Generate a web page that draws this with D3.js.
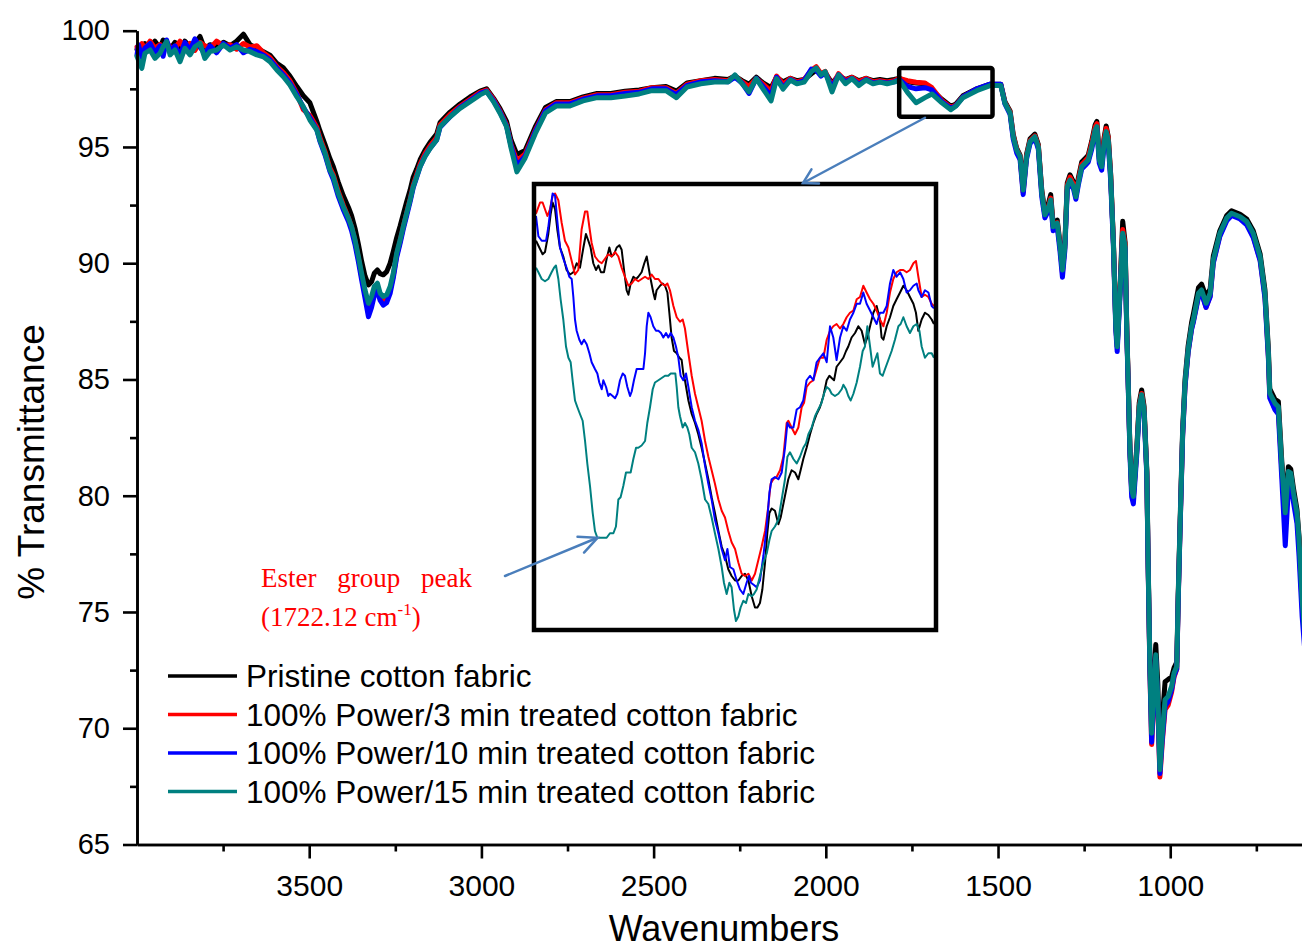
<!DOCTYPE html>
<html>
<head>
<meta charset="utf-8">
<script src="https://cdn.jsdelivr.net/npm/d3@7"></script>
<style>
  html, body { margin: 0; padding: 0; background: #ffffff; }
  svg { display: block; }
</style>
</head>
<body>
<svg id="chart" width="1302" height="950"></svg>
<script>
// ---------------- FTIR spectra (wavenumber in cm-1, % transmittance) ----------------
const wavenumbers = [
  4000, 3996, 3986, 3977, 3962, 3948, 3933, 3924, 3914, 3904,
  3890, 3875, 3861, 3846, 3832, 3817, 3803, 3788, 3769, 3749,
  3730, 3711, 3691, 3672, 3652, 3633, 3614, 3594, 3575, 3556,
  3536, 3517, 3498, 3478, 3469, 3454, 3440, 3430, 3416, 3401,
  3386, 3377, 3367, 3357, 3348, 3338, 3328, 3319, 3311, 3302,
  3294, 3285, 3275, 3265, 3256, 3246, 3236, 3227, 3217, 3207,
  3198, 3188, 3178, 3164, 3149, 3130, 3120, 3091, 3062, 3033,
  3004, 2985, 2965, 2946, 2927, 2914, 2897, 2873, 2844, 2814,
  2783, 2743, 2705, 2664, 2624, 2583, 2542, 2505, 2464, 2434,
  2403, 2363, 2323, 2284, 2264, 2243, 2223, 2202, 2182, 2159,
  2143, 2124, 2103, 2084, 2063, 2042, 2028, 2014, 2002, 1982,
  1963, 1943, 1924, 1904, 1883, 1863, 1843, 1822, 1802, 1787,
  1763, 1738, 1712, 1692, 1663, 1637, 1622, 1602, 1562, 1523,
  1492, 1480, 1465, 1456, 1446, 1436, 1427, 1417, 1407, 1393,
  1383, 1373, 1364, 1354, 1347, 1340, 1328, 1320, 1313, 1306,
  1299, 1291, 1281, 1274, 1267, 1257, 1247, 1238, 1228, 1218,
  1213, 1206, 1199, 1192, 1186, 1180, 1173, 1165, 1158, 1154,
  1146, 1138, 1131, 1126, 1122, 1117, 1112, 1107, 1097, 1090,
  1083, 1076, 1068, 1064, 1059, 1054, 1049, 1042, 1036, 1030,
  1023, 1015, 1006, 996, 989, 981, 977, 972, 964, 957,
  948, 938, 933, 918, 909, 896, 884, 875, 856, 836,
  822, 797, 778, 759, 739, 725, 715, 711, 696, 686,
  676, 666, 657, 650, 642, 632, 626, 617, 608
];

const pristine = [
  99.20, 99.35, 99.10, 99.45, 99.30, 99.55, 99.25, 99.60, 99.40, 99.20,
  99.50, 99.15, 99.55, 99.30, 99.45, 99.75, 99.20, 99.40, 99.30, 99.50,
  99.35, 99.55, 99.85, 99.40, 99.25, 99.10, 98.95, 98.60, 98.40, 98.05,
  97.60, 97.20, 96.90, 96.10, 95.70, 95.10, 94.50, 94.15, 93.50, 92.90,
  92.40, 92.05, 91.50, 90.80, 90.10, 89.45, 89.07, 89.20, 89.57, 89.71,
  89.55, 89.50, 89.64, 90.00, 90.50, 91.10, 91.60, 92.10, 92.65, 93.15,
  93.70, 94.05, 94.45, 94.85, 95.20, 95.55, 96.05, 96.50, 96.85, 97.15,
  97.40, 97.50, 97.10, 96.65, 96.10, 95.30, 94.68, 94.85, 95.85, 96.70,
  96.95, 96.95, 97.15, 97.30, 97.30, 97.40, 97.45, 97.55, 97.60, 97.40,
  97.75, 97.85, 97.95, 97.90, 98.05, 97.85, 97.70, 98.00, 97.75, 97.55,
  98.00, 97.80, 97.95, 97.85, 97.90, 98.15, 98.30, 98.15, 98.20, 97.75,
  98.05, 97.90, 98.00, 97.85, 97.95, 97.85, 97.90, 97.85, 97.90, 97.95,
  97.80, 97.75, 97.72, 97.45, 97.05, 96.75, 96.85, 97.20, 97.50, 97.70,
  97.70, 96.95, 96.55, 95.55, 94.95, 94.65, 93.30, 94.70, 95.35, 95.55,
  95.10, 93.15, 92.20, 92.55, 92.95, 91.70, 91.85, 90.85, 89.90, 90.85,
  93.45, 93.80, 93.50, 93.05, 93.65, 94.35, 94.50, 94.65, 95.25, 95.95,
  96.10, 94.60, 94.35, 95.40, 95.90, 95.45, 93.85, 90.95, 87.40, 86.55,
  88.90, 91.80, 90.90, 87.10, 84.95, 82.05, 80.35, 80.10, 82.10, 84.00,
  84.55, 83.85, 81.10, 77.05, 72.80, 70.40, 71.80, 73.60, 71.90, 68.50,
  70.40, 72.00, 72.10, 72.20, 72.60, 72.85, 75.65, 78.55, 82.85, 85.00,
  86.45, 87.45, 87.80, 88.95, 89.10, 88.55, 88.90, 90.30, 91.40, 92.05,
  92.25, 92.10, 91.90, 91.40, 90.40, 88.85, 86.30, 84.60, 84.15, 84.05,
  81.45, 79.55, 81.25, 81.15, 80.30, 79.40, 78.25, 75.65, 73.95
];

const power3min = [
  99.30, 99.15, 99.45, 99.20, 99.55, 99.25, 99.40, 99.10, 99.50, 99.30,
  99.25, 99.55, 99.20, 99.45, 99.15, 99.50, 99.35, 99.25, 99.55, 99.35,
  99.40, 99.20, 99.45, 99.30, 99.35, 99.05, 98.85, 98.45, 98.20, 97.85,
  97.30, 96.60, 96.35, 95.85, 95.40, 94.80, 94.10, 93.80, 93.10, 92.50,
  91.95, 91.55, 90.95, 90.20, 89.45, 88.70, 88.05, 88.35, 88.75, 88.90,
  88.50, 88.40, 88.50, 88.85, 89.45, 90.35, 90.95, 91.55, 92.15, 92.75,
  93.35, 93.80, 94.25, 94.70, 95.05, 95.40, 95.95, 96.40, 96.75, 97.05,
  97.35, 97.45, 97.05, 96.55, 95.95, 95.10, 94.40, 94.70, 95.70, 96.60,
  96.90, 96.90, 97.10, 97.25, 97.25, 97.35, 97.40, 97.55, 97.55, 97.30,
  97.70, 97.85, 97.90, 97.85, 98.05, 97.80, 97.60, 97.95, 97.70, 97.40,
  98.05, 97.70, 97.95, 97.80, 97.90, 98.30, 98.45, 98.15, 98.25, 97.60,
  98.15, 97.85, 98.00, 97.80, 97.95, 97.80, 97.85, 97.80, 97.85, 97.95,
  97.85, 97.78, 97.75, 97.55, 97.00, 96.70, 96.80, 97.15, 97.48, 97.68,
  97.68, 96.90, 96.50, 95.50, 94.90, 94.60, 93.05, 94.62, 95.28, 95.48,
  95.05, 93.05, 92.10, 92.40, 92.80, 91.60, 91.75, 90.70, 89.60, 90.70,
  93.35, 93.70, 93.40, 92.95, 93.55, 94.25, 94.40, 94.55, 95.15, 95.85,
  96.00, 94.50, 94.25, 95.30, 95.80, 95.40, 93.80, 90.90, 87.30, 86.40,
  88.75, 91.45, 90.80, 87.00, 84.85, 81.95, 80.20, 79.90, 81.95, 83.85,
  84.40, 83.70, 80.95, 76.85, 72.40, 69.30, 70.80, 72.90, 70.90, 67.90,
  69.40, 70.80, 71.00, 71.55, 72.20, 72.55, 75.45, 78.30, 82.60, 84.75,
  86.20, 87.20, 87.50, 88.60, 88.75, 88.10, 88.60, 90.05, 91.20, 91.88,
  92.10, 91.95, 91.70, 91.15, 90.15, 88.60, 86.00, 84.30, 83.85, 83.70,
  81.10, 78.95, 80.90, 80.85, 80.00, 79.10, 77.95, 75.30, 73.55
];

const power10min = [
  98.95, 99.40, 98.85, 99.25, 99.45, 99.05, 99.35, 98.90, 99.60, 99.15,
  99.35, 98.95, 99.50, 99.15, 99.65, 99.30, 99.00, 99.35, 99.05, 99.45,
  99.25, 99.40, 99.05, 99.20, 99.10, 98.95, 98.75, 98.40, 98.10, 97.75,
  97.25, 96.70, 96.25, 95.75, 95.25, 94.65, 93.95, 93.60, 92.90, 92.30,
  91.80, 91.40, 90.80, 90.05, 89.30, 88.50, 87.70, 88.10, 88.60, 88.80,
  88.40, 88.20, 88.30, 88.70, 89.35, 90.25, 90.85, 91.45, 92.05, 92.65,
  93.25, 93.70, 94.15, 94.60, 94.95, 95.30, 95.85, 96.30, 96.70, 97.00,
  97.30, 97.40, 97.00, 96.50, 95.90, 95.05, 94.20, 94.60, 95.65, 96.55,
  96.85, 96.85, 97.05, 97.20, 97.20, 97.30, 97.35, 97.50, 97.50, 97.25,
  97.65, 97.80, 97.85, 97.80, 98.00, 97.75, 97.30, 97.95, 97.60, 97.20,
  98.00, 97.55, 97.90, 97.75, 97.85, 98.35, 98.30, 98.05, 98.20, 97.55,
  98.10, 97.80, 97.95, 97.70, 97.90, 97.75, 97.80, 97.75, 97.80, 97.90,
  97.60, 97.50, 97.55, 97.45, 96.95, 96.65, 96.78, 97.15, 97.50, 97.70,
  97.70, 96.85, 96.40, 95.35, 94.75, 94.45, 92.95, 94.50, 95.15, 95.38,
  94.90, 92.85, 91.95, 92.25, 92.60, 91.40, 91.55, 90.50, 89.40, 90.55,
  93.15, 93.50, 93.20, 92.75, 93.35, 94.05, 94.20, 94.35, 94.90, 95.65,
  95.80, 94.30, 94.00, 95.05, 95.55, 95.15, 93.55, 90.70, 87.10, 86.20,
  88.55, 91.20, 90.60, 86.85, 84.70, 81.75, 79.95, 79.65, 81.80, 83.65,
  84.20, 83.55, 80.85, 76.80, 72.50, 69.40, 70.95, 73.00, 71.05, 68.05,
  69.55, 70.95, 71.15, 71.65, 72.25, 72.55, 75.40, 78.25, 82.55, 84.70,
  86.15, 87.15, 87.45, 88.55, 88.70, 88.10, 88.55, 90.00, 91.15, 91.82,
  92.05, 91.90, 91.65, 91.10, 90.10, 88.50, 85.90, 84.20, 83.70, 83.50,
  80.70, 77.85, 80.30, 80.50, 79.70, 78.80, 77.40, 74.80, 73.10
];

const power15min = [
  98.90, 98.74, 98.38, 99.03, 99.17, 98.81, 99.03, 99.31, 99.53, 98.96,
  99.17, 98.67, 99.24, 98.96, 99.31, 99.46, 98.81, 99.10, 99.17, 99.39,
  99.17, 99.31, 99.17, 99.10, 98.96, 98.88, 98.67, 98.31, 98.02, 97.67,
  97.16, 96.73, 96.16, 95.73, 95.30, 94.73, 94.01, 93.72, 93.01, 92.43,
  91.93, 91.57, 91.00, 90.28, 89.57, 88.85, 88.28, 88.57, 89.00, 89.14,
  88.71, 88.57, 88.64, 89.00, 89.57, 90.43, 91.00, 91.57, 92.15, 92.72,
  93.29, 93.72, 94.15, 94.58, 94.94, 95.30, 95.87, 96.30, 96.66, 96.95,
  97.24, 97.38, 96.95, 96.45, 95.87, 94.96, 93.93, 94.53, 95.56, 96.46,
  96.76, 96.76, 96.98, 97.12, 97.12, 97.19, 97.28, 97.42, 97.42, 97.12,
  97.58, 97.72, 97.79, 97.79, 98.10, 97.72, 97.37, 97.94, 97.49, 96.98,
  97.94, 97.49, 97.88, 97.72, 97.79, 98.24, 98.40, 98.10, 98.24, 97.37,
  98.10, 97.72, 97.94, 97.64, 97.88, 97.72, 97.79, 97.72, 97.79, 97.88,
  97.35, 96.90, 97.12, 97.28, 96.90, 96.60, 96.76, 97.12, 97.42, 97.64,
  97.64, 96.88, 96.46, 95.44, 94.87, 94.58, 93.15, 94.58, 95.23, 95.44,
  95.01, 93.01, 92.08, 92.37, 92.72, 91.57, 91.72, 90.71, 89.71, 90.71,
  93.29, 93.58, 93.29, 92.86, 93.44, 94.15, 94.30, 94.44, 95.01, 95.73,
  95.87, 94.44, 94.15, 95.16, 95.66, 95.30, 93.72, 90.86, 87.28, 86.41,
  88.71, 91.29, 90.71, 86.99, 84.85, 81.97, 80.25, 79.97, 81.97, 83.83,
  84.34, 83.69, 81.00, 76.96, 72.66, 69.79, 71.23, 73.16, 71.23, 68.22,
  69.79, 71.23, 71.37, 71.80, 72.38, 72.66, 75.53, 78.39, 82.69, 84.84,
  86.27, 87.27, 87.56, 88.71, 88.85, 88.28, 88.71, 90.14, 91.29, 91.94,
  92.15, 92.00, 91.79, 91.29, 90.28, 88.71, 86.13, 84.41, 83.98, 83.83,
  81.26, 79.27, 81.04, 80.97, 80.11, 79.25, 78.11, 75.53, 73.80
];

// ---------------- Carbonyl region 1800-1530 cm-1, expanded ----------------
const insetPristine = [
  [1796.0,98.13],[1793.8,98.10],[1791.6,98.07],[1790.0,98.08],[1787.8,98.16],[1786.2,98.25],[1784.9,98.30],[1783.3,98.27],[1781.8,98.18],[1780.0,98.10],
  [1777.8,98.06],[1775.6,98.00],[1773.3,97.98],[1771.1,97.99],[1768.9,98.03],[1766.7,98.01],[1764.4,98.10],[1762.7,98.16],[1761.1,98.13],[1759.6,98.10],
  [1757.8,98.03],[1756.0,98.00],[1754.4,98.02],[1752.7,97.99],[1750.7,97.99],[1748.9,98.05],[1747.1,98.10],[1745.6,98.06],[1744.0,98.07],[1742.2,98.10],
  [1740.4,98.11],[1738.9,98.09],[1737.3,98.00],[1735.6,97.91],[1734.4,97.89],[1732.9,97.94],[1731.1,97.97],[1729.3,97.96],[1727.8,97.97],[1725.6,97.99],
  [1723.8,98.03],[1722.2,98.06],[1720.9,98.01],[1719.6,97.96],[1717.8,97.90],[1716.7,97.87],[1715.6,97.91],[1713.3,97.93],[1711.6,97.94],[1710.0,97.93],
  [1708.4,97.90],[1707.1,97.81],[1705.6,97.70],[1704.0,97.64],[1702.2,97.63],[1700.4,97.61],[1698.9,97.60],[1697.8,97.54],[1696.7,97.51],[1694.4,97.42],
  [1692.2,97.36],[1690.0,97.32],[1687.8,97.27],[1685.6,97.21],[1683.3,97.14],[1681.1,97.07],[1678.9,96.99],[1676.7,96.92],[1674.4,96.84],[1672.2,96.77],
  [1670.0,96.73],[1667.8,96.67],[1665.6,96.64],[1663.3,96.62],[1661.1,96.62],[1658.9,96.64],[1656.7,96.65],[1654.4,96.62],[1652.2,96.55],[1650.0,96.50],
  [1648.4,96.50],[1646.7,96.52],[1645.1,96.58],[1643.3,96.70],[1641.8,96.83],[1640.4,96.92],[1638.9,96.94],[1636.7,96.93],[1634.4,96.87],[1632.9,96.90],
  [1631.1,96.96],[1629.3,97.02],[1627.8,97.07],[1625.6,97.11],[1623.3,97.10],[1621.1,97.07],[1619.6,97.11],[1617.8,97.16],[1615.6,97.21],[1613.3,97.27],
  [1611.1,97.32],[1608.9,97.36],[1606.7,97.39],[1604.4,97.44],[1602.2,97.51],[1600.4,97.53],[1598.9,97.52],[1597.3,97.51],[1595.6,97.57],[1593.3,97.59],
  [1591.1,97.61],[1589.3,97.64],[1587.8,97.66],[1585.6,97.70],[1583.3,97.72],[1581.1,97.75],[1578.9,97.73],[1576.7,97.67],[1575.1,97.70],[1573.3,97.75],
  [1571.1,97.81],[1568.9,97.84],[1566.7,97.78],[1565.6,97.70],[1564.4,97.69],[1562.2,97.75],[1560.0,97.79],[1557.8,97.84],[1555.6,97.87],[1553.3,97.90],
  [1551.1,97.93],[1548.9,97.91],[1546.7,97.88],[1544.4,97.85],[1542.7,97.81],[1541.1,97.73],[1538.9,97.78],[1536.7,97.81],[1534.4,97.80],[1532.2,97.78],[1530.7,97.76]
];

const insetPower3min = [
  [1796.0,98.25],[1793.3,98.30],[1791.6,98.30],[1790.0,98.27],[1788.4,98.24],[1786.7,98.27],[1784.9,98.33],[1783.3,98.34],[1781.1,98.31],[1778.9,98.21],
  [1776.7,98.13],[1774.4,98.10],[1772.2,98.04],[1770.0,97.98],[1767.8,98.00],[1765.6,98.18],[1763.3,98.26],[1761.8,98.26],[1760.4,98.19],[1758.9,98.12],
  [1756.7,98.06],[1754.4,98.04],[1752.2,98.03],[1750.0,98.05],[1747.8,98.07],[1745.6,98.06],[1743.3,98.08],[1741.1,98.06],[1738.9,98.01],[1736.7,97.97],
  [1734.4,97.93],[1732.2,97.94],[1730.0,97.96],[1727.8,97.95],[1725.6,97.96],[1723.3,97.97],[1721.1,97.96],[1718.9,97.98],[1716.7,97.96],[1714.4,97.96],
  [1712.2,97.94],[1710.0,97.93],[1708.4,97.94],[1706.7,97.91],[1704.4,97.84],[1702.2,97.79],[1700.0,97.77],[1698.2,97.78],[1696.7,97.74],[1694.4,97.63],
  [1692.2,97.53],[1690.0,97.45],[1687.8,97.39],[1685.6,97.33],[1683.3,97.24],[1681.1,97.17],[1678.9,97.11],[1676.7,97.05],[1674.4,96.98],[1672.2,96.93],
  [1670.0,96.90],[1667.8,96.84],[1665.6,96.79],[1663.3,96.76],[1661.1,96.70],[1658.9,96.65],[1656.7,96.64],[1654.4,96.65],[1652.2,96.62],[1650.0,96.65],
  [1647.8,96.71],[1645.6,96.77],[1643.3,96.84],[1641.1,96.95],[1639.6,97.05],[1637.8,97.07],[1635.6,97.08],[1633.3,97.11],[1631.1,97.17],[1628.9,97.32],
  [1627.8,97.33],[1625.6,97.30],[1623.3,97.27],[1621.1,97.30],[1618.9,97.39],[1617.3,97.41],[1615.6,97.48],[1613.3,97.50],[1611.1,97.51],[1608.9,97.56],
  [1606.7,97.61],[1604.4,97.61],[1602.2,97.69],[1600.0,97.73],[1597.8,97.75],[1595.6,97.76],[1593.3,97.74],[1591.1,97.76],[1588.9,97.79],[1586.7,97.81],
  [1584.4,97.82],[1582.2,97.87],[1580.0,97.88],[1577.8,97.93],[1575.6,97.90],[1573.3,97.87],[1571.1,97.85],[1568.9,97.82],[1566.7,97.78],[1564.4,97.75],
  [1562.2,97.81],[1560.0,97.90],[1557.8,97.96],[1555.6,97.99],[1553.3,98.00],[1551.1,98.00],[1548.9,97.99],[1546.7,98.00],[1544.4,98.03],[1542.7,98.04],
  [1541.1,97.97],[1538.9,97.88],[1536.7,97.89],[1534.4,97.88],[1532.2,97.85],[1530.7,97.84]
];

const insetPower10min = [
  [1796.0,98.24],[1794.4,98.15],[1792.2,98.13],[1789.3,98.13],[1787.8,98.19],[1786.2,98.28],[1784.9,98.34],[1783.3,98.33],[1781.8,98.22],[1780.0,98.10],
  [1777.8,98.05],[1775.6,98.01],[1773.8,97.97],[1772.2,97.96],[1771.1,97.88],[1770.0,97.78],[1768.9,97.73],[1767.1,97.69],[1765.6,97.67],[1764.0,97.69],
  [1762.2,97.67],[1760.4,97.63],[1758.9,97.59],[1756.7,97.56],[1755.1,97.54],[1753.8,97.50],[1752.2,97.47],[1751.1,97.51],[1749.3,97.48],[1747.8,97.44],
  [1746.7,97.45],[1744.9,97.44],[1743.3,97.43],[1741.8,97.45],[1740.0,97.51],[1738.2,97.54],[1736.7,97.53],[1735.1,97.48],[1733.3,97.44],[1732.2,97.46],
  [1730.7,97.51],[1728.9,97.56],[1726.7,97.56],[1724.4,97.56],[1723.3,97.63],[1722.2,97.75],[1721.1,97.81],[1719.6,97.79],[1717.8,97.75],[1716.0,97.73],
  [1714.4,97.73],[1712.7,97.72],[1711.1,97.70],[1709.3,97.72],[1707.8,97.70],[1706.2,97.72],[1704.4,97.70],[1702.7,97.66],[1701.1,97.61],[1699.6,97.53],
  [1697.8,97.51],[1696.0,97.54],[1694.4,97.48],[1692.2,97.39],[1690.0,97.33],[1687.8,97.29],[1685.6,97.23],[1683.3,97.13],[1681.1,97.05],[1678.9,96.98],
  [1676.7,96.89],[1674.4,96.83],[1672.2,96.76],[1670.0,96.71],[1668.4,96.76],[1666.7,96.68],[1664.4,96.67],[1662.2,96.62],[1660.0,96.58],[1657.8,96.56],
  [1655.6,96.61],[1654.0,96.64],[1652.7,96.61],[1650.7,96.60],[1648.9,96.59],[1646.7,96.62],[1644.4,96.73],[1642.2,96.86],[1640.4,97.01],[1638.9,97.07],
  [1636.7,97.08],[1634.4,97.07],[1632.2,97.10],[1630.0,97.21],[1628.4,97.32],[1626.7,97.30],[1624.4,97.30],[1622.2,97.38],[1620.0,97.39],[1617.8,97.42],
  [1615.6,97.51],[1613.3,97.53],[1611.1,97.51],[1608.9,97.59],[1606.7,97.61],[1604.4,97.63],[1602.2,97.59],[1600.0,97.75],[1597.8,97.70],[1595.6,97.60],
  [1593.3,97.70],[1591.1,97.75],[1588.9,97.73],[1586.7,97.78],[1584.4,97.81],[1582.2,97.85],[1580.0,97.85],[1577.8,97.90],[1575.6,97.85],[1573.3,97.82],
  [1571.1,97.79],[1568.9,97.76],[1566.7,97.81],[1564.4,97.81],[1562.2,97.84],[1560.0,97.94],[1557.8,98.00],[1555.6,97.97],[1553.3,97.99],[1551.1,97.96],
  [1548.9,97.90],[1546.7,97.91],[1544.4,97.93],[1542.2,97.94],[1541.1,97.91],[1538.9,97.88],[1536.7,97.91],[1534.4,97.90],[1532.2,97.84],[1530.7,97.83]
];

const insetPower15min = [
  [1796.0,98.01],[1794.4,97.99],[1792.2,97.96],[1790.0,97.95],[1787.8,97.96],[1785.6,97.99],[1784.0,98.01],[1782.7,98.02],[1781.1,97.96],[1779.6,97.87],
  [1777.8,97.78],[1776.0,97.66],[1774.4,97.61],[1772.9,97.59],[1771.6,97.51],[1770.0,97.42],[1768.4,97.39],[1766.7,97.36],[1764.9,97.33],[1763.3,97.24],
  [1761.8,97.14],[1760.0,97.04],[1758.2,96.92],[1756.7,96.84],[1755.1,96.81],[1753.3,96.81],[1751.1,96.81],[1748.9,96.81],[1746.7,96.83],[1744.4,96.83],
  [1742.7,96.86],[1741.1,96.98],[1739.6,96.99],[1737.8,97.04],[1736.0,97.10],[1734.4,97.10],[1732.9,97.10],[1731.1,97.16],[1729.3,97.21],[1727.8,97.21],
  [1725.6,97.22],[1723.3,97.24],[1721.8,97.32],[1720.0,97.39],[1718.2,97.47],[1716.7,97.50],[1714.4,97.51],[1712.2,97.52],[1710.0,97.53],[1707.8,97.53],
  [1706.2,97.54],[1704.4,97.54],[1703.1,97.54],[1702.2,97.48],[1701.1,97.39],[1700.0,97.35],[1698.2,97.30],[1696.7,97.32],[1695.1,97.30],[1693.8,97.27],
  [1692.2,97.21],[1690.0,97.19],[1687.8,97.14],[1685.6,97.07],[1683.3,96.98],[1681.1,96.96],[1678.9,96.90],[1676.7,96.83],[1674.4,96.76],[1672.2,96.68],
  [1670.7,96.61],[1668.9,96.56],[1667.1,96.61],[1665.6,96.59],[1664.0,96.49],[1662.7,96.44],[1661.1,96.46],[1659.6,96.50],[1657.8,96.53],[1656.0,96.52],
  [1654.4,96.56],[1652.2,96.55],[1650.7,96.56],[1648.9,96.58],[1646.7,96.64],[1644.4,96.70],[1642.2,96.74],[1640.4,96.80],[1638.9,96.84],[1636.7,96.86],
  [1634.4,96.89],[1632.2,96.98],[1630.0,97.07],[1628.4,97.17],[1626.7,97.19],[1624.4,97.16],[1622.2,97.14],[1620.0,97.17],[1617.8,97.21],[1616.0,97.23],
  [1614.4,97.27],[1612.2,97.30],[1610.0,97.35],[1607.8,97.38],[1605.6,97.41],[1604.0,97.45],[1602.2,97.48],[1600.4,97.47],[1598.9,97.45],[1596.7,97.44],
  [1594.4,97.45],[1592.2,97.47],[1591.1,97.49],[1589.3,97.47],[1587.8,97.44],[1586.2,97.42],[1584.4,97.45],[1582.2,97.50],[1580.0,97.57],[1578.2,97.64],
  [1576.7,97.66],[1575.1,97.75],[1573.3,97.66],[1571.6,97.57],[1570.0,97.60],[1568.4,97.63],[1566.7,97.54],[1564.9,97.53],[1563.3,97.56],[1561.1,97.60],
  [1558.9,97.64],[1556.7,97.69],[1554.4,97.75],[1552.9,97.76],[1551.1,97.79],[1548.9,97.75],[1546.7,97.72],[1544.4,97.75],[1542.2,97.76],[1540.4,97.73],
  [1538.9,97.66],[1536.7,97.61],[1534.4,97.63],[1532.2,97.63],[1530.7,97.61]
];

const seriesNames = [
  "Pristine cotton fabric",
  "100% Power/3 min treated cotton fabric",
  "100% Power/10 min treated cotton fabric",
  "100% Power/15 min treated cotton fabric"
];
const seriesColors = ["#000000", "#ff0000", "#0000ff", "#008080"];
const seriesValues = [pristine, power3min, power10min, power15min];
const insetSeries = [insetPristine, insetPower3min, insetPower10min, insetPower15min];

const xMajorTicks = [3500, 3000, 2500, 2000, 1500, 1000];
const xMinorTicks = [3750, 3250, 2750, 2250, 1750, 1250, 750];
const yMajorTicks = [65, 70, 75, 80, 85, 90, 95, 100];
const yMinorTicks = [67.5, 72.5, 77.5, 82.5, 87.5, 92.5, 97.5];

// expanded window (wavenumber range, transmittance range) marked on the main trace
const zoomWn = [1787, 1516];
const zoomT = [98.4, 96.3];
const esterPeak = [1755, 96.81];

// ---------------- drawing ----------------
const svg = d3.select("#chart");
const sans = "'Liberation Sans', Arial, Helvetica, sans-serif";
const serif = "'Liberation Serif', 'Times New Roman', Times, serif";

const x = d3.scaleLinear().domain([4000, 600]).range([137, 1308]);
const y = d3.scaleLinear().domain([65, 100]).range([844.5, 30.7]);

// spectra
const line = d3.line().x(d => x(d[0])).y(d => y(d[1]));
const gLines = svg.append("g");
seriesValues.forEach((vals, i) => {
  gLines.append("path")
    .datum(d3.zip(wavenumbers, vals))
    .attr("d", line)
    .attr("fill", "none")
    .attr("stroke", seriesColors[i])
    .attr("stroke-width", 5)
    .attr("stroke-linejoin", "round")
    .attr("stroke-linecap", "round");
});

// axes
function styleAxis(g, size) {
  g.selectAll("path.domain").attr("stroke", "#000").attr("stroke-width", 2.6);
  g.selectAll(".tick line").attr("stroke", "#000").attr("stroke-width", 2.6);
  g.selectAll(".tick text").attr("font-family", sans).attr("font-size", size).attr("fill", "#000");
}

const xAxis = svg.append("g").attr("transform", "translate(0,844.5)")
  .call(d3.axisBottom(x).tickValues(xMajorTicks).tickSize(14).tickSizeOuter(0).tickPadding(16).tickFormat(d3.format("d")));
styleAxis(xAxis, 30);
const xMinor = svg.append("g").attr("transform", "translate(0,844.5)")
  .call(d3.axisBottom(x).tickValues(xMinorTicks).tickSize(7).tickSizeOuter(0).tickFormat(""));
styleAxis(xMinor, 30);

const yAxis = svg.append("g").attr("transform", "translate(137,0)")
  .call(d3.axisLeft(y).tickValues(yMajorTicks).tickSize(14).tickSizeOuter(0).tickPadding(13).tickFormat(d3.format("d")));
styleAxis(yAxis, 29);
const yMinor = svg.append("g").attr("transform", "translate(137,0)")
  .call(d3.axisLeft(y).tickValues(yMinorTicks).tickSize(7).tickSizeOuter(0).tickFormat(""));
styleAxis(yMinor, 29);

// axis titles
svg.append("text")
  .attr("x", 724).attr("y", 941)
  .attr("text-anchor", "middle")
  .attr("font-family", sans).attr("font-size", 36)
  .text("Wavenumbers");
svg.append("text")
  .attr("transform", "translate(44,462) rotate(-90)")
  .attr("text-anchor", "middle")
  .attr("font-family", sans).attr("font-size", 37)
  .text("% Transmittance");

// window marker on main trace
svg.append("rect")
  .attr("x", x(zoomWn[0])).attr("y", y(zoomT[0]))
  .attr("width", x(zoomWn[1]) - x(zoomWn[0]))
  .attr("height", y(zoomT[1]) - y(zoomT[0]))
  .attr("rx", 2)
  .attr("fill", "none").attr("stroke", "#000").attr("stroke-width", 4.5);

// expanded panel
const frame = { x0: 534, y0: 184, x1: 936, y1: 630 };
const ix = d3.scaleLinear().domain([1800, 1530]).range([530, 935]);
const iy = d3.scaleLinear().domain([98.4, 96.4]).range([180, 630]);

svg.append("defs").append("clipPath").attr("id", "insetClip")
  .append("rect")
  .attr("x", frame.x0 + 2).attr("y", frame.y0 + 2)
  .attr("width", frame.x1 - frame.x0 - 4).attr("height", frame.y1 - frame.y0 - 4);

svg.append("rect")
  .attr("x", frame.x0).attr("y", frame.y0)
  .attr("width", frame.x1 - frame.x0).attr("height", frame.y1 - frame.y0)
  .attr("fill", "#fff");

const insetLine = d3.line().x(d => ix(d[0])).y(d => iy(d[1]));
const gInset = svg.append("g").attr("clip-path", "url(#insetClip)");
insetSeries.forEach((pts, i) => {
  gInset.append("path")
    .datum(pts)
    .attr("d", insetLine)
    .attr("fill", "none")
    .attr("stroke", seriesColors[i])
    .attr("stroke-width", 2)
    .attr("stroke-linejoin", "round");
});

svg.append("rect")
  .attr("x", frame.x0).attr("y", frame.y0)
  .attr("width", frame.x1 - frame.x0).attr("height", frame.y1 - frame.y0)
  .attr("fill", "none").attr("stroke", "#000").attr("stroke-width", 4.5);

// arrows
const arrowColor = "#4a7ebb";
function arrow(x1, y1, x2, y2, head, spread) {
  const g = svg.append("g").attr("stroke", arrowColor).attr("stroke-width", 2.5)
    .attr("fill", "none").attr("stroke-linecap", "round");
  g.append("line").attr("x1", x1).attr("y1", y1).attr("x2", x2).attr("y2", y2);
  const ang = Math.atan2(y1 - y2, x1 - x2);
  const a1 = ang + spread, a2 = ang - spread;
  g.append("path").attr("d",
    `M${x2 + head * Math.cos(a1)},${y2 + head * Math.sin(a1)} L${x2},${y2} L${x2 + head * Math.cos(a2)},${y2 + head * Math.sin(a2)}`);
}
arrow(x(1712), y(zoomT[1]) + 1, ix(1618), frame.y0 - 1, 16, Math.PI / 6);
arrow(505, 576, ix(esterPeak[0]), iy(esterPeak[1]), 20, 0.44);

// annotation
svg.append("text")
  .attr("x", 261).attr("y", 587)
  .attr("font-family", serif).attr("font-size", 27)
  .attr("fill", "#ff0000")
  .attr("word-spacing", 14)
  .text("Ester group peak");
const ann = svg.append("text")
  .attr("x", 261).attr("y", 626)
  .attr("font-family", serif).attr("font-size", 27)
  .attr("fill", "#ff0000");
ann.append("tspan").text("(1722.12 cm");
ann.append("tspan").attr("font-size", 17).attr("dy", -11).text("-1");
ann.append("tspan").attr("dy", 11).text(")");

// legend
const legend = svg.append("g");
seriesNames.forEach((name, i) => {
  const ly = 676 + i * 38.5;
  legend.append("line")
    .attr("x1", 168).attr("x2", 237).attr("y1", ly).attr("y2", ly)
    .attr("stroke", seriesColors[i]).attr("stroke-width", 3.5);
  legend.append("text")
    .attr("x", 246).attr("y", ly + 11)
    .attr("font-family", sans).attr("font-size", 31.5)
    .text(name);
});
</script>
</body>
</html>
